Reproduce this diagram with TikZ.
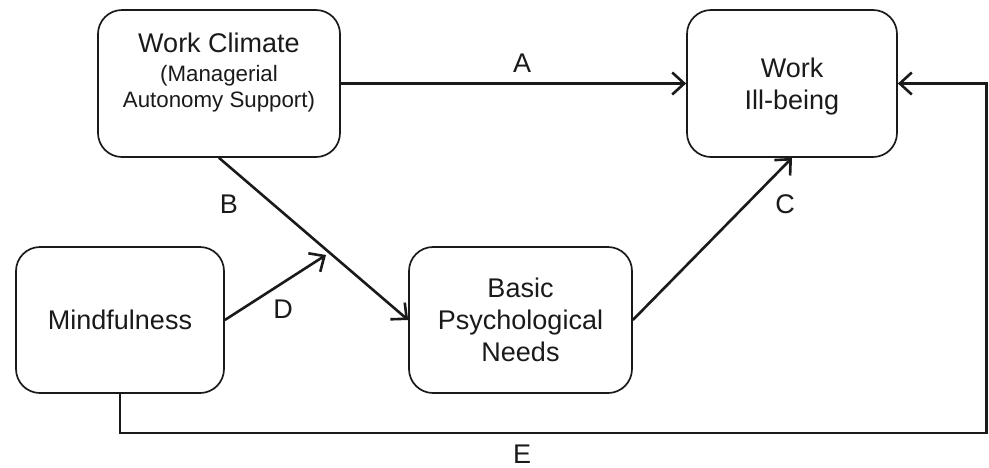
\documentclass[tikz,border=0pt]{standalone}
\usepackage{fontspec}
\setmainfont{Liberation Sans}
\usetikzlibrary{arrows.meta}
\definecolor{ink}{HTML}{1A1A1A}
\begin{document}
\begin{tikzpicture}[x=1pt,y=-1pt,
  box/.style={draw=ink, line width=1.7pt, rounded corners=24pt, align=center, inner sep=0pt,
    text=ink, font=\fontsize{27}{32}\selectfont},
  txt/.style={align=center, inner sep=0pt, text=ink},
  lbl/.style={inner sep=0pt, anchor=base, text=ink, font=\fontsize{27}{32}\selectfont},
  conn/.style={draw=ink, line width=2.6pt, -{Straight Barb[length=12pt,width=22pt]}}]
\useasboundingbox (0,0) rectangle (989,467);
% boxes
\node[box, minimum width=242pt, minimum height=147pt] (wc) at (219,83.5) {};
\node[txt, anchor=north, font=\fontsize{22.3}{26}\selectfont] (wct) at (219,33)
  {{\fontsize{27}{32}\selectfont Work Climate}\\[3pt](Managerial\\Autonomy Support)};
\node[box, minimum width=210pt, minimum height=147pt] (wib) at (792,83.5) {};
\node[txt, font=\fontsize{27}{32}\selectfont] (wibt) at (792,87) {Work\\Ill-being};
\node[box, minimum width=208pt, minimum height=146pt] (mind) at (120,320) {Mindfulness};
\node[box, minimum width=223pt, minimum height=146pt] (bpn) at (520.5,320) {Basic\\Psychological\\Needs};
% connectors
\draw[conn] (wc.east) -- (wib.west);
\draw[conn] (wc.south) -- (bpn.west);
\draw[conn] (bpn.east) -- (wib.south);
\coordinate (dtip) at (326,255);
\draw[conn] (mind.east) -- (dtip);
\coordinate (e1) at (120,433);
\coordinate (e2) at (986.5,433);
\coordinate (e3) at (986.5,83.5);
\draw[conn, line join=miter] (mind.south) -- (e1) -- (e2) -- (e3) -- (wib.east);
% labels
\node[lbl] (la) at (522,72) {A};
\node[lbl] (lb) at (229,213) {B};
\node[lbl] (lc) at (785,213) {C};
\node[lbl] (ld) at (283,318) {D};
\node[lbl] (le) at (522,463) {E};
\end{tikzpicture}
\end{document}
